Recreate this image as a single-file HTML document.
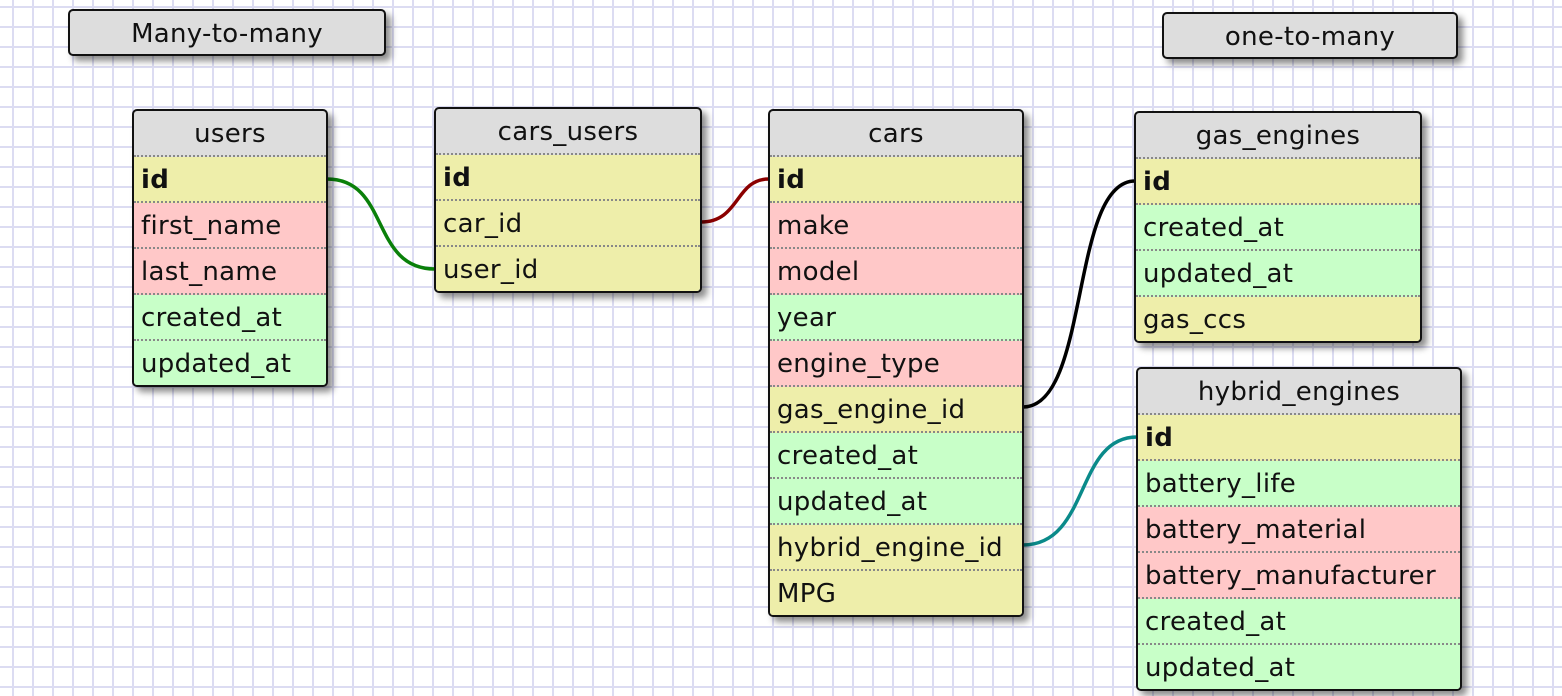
<!DOCTYPE html>
<html><head><meta charset="utf-8"><style>
body{margin:0;width:1562px;height:696px;overflow:hidden;position:relative;
background-color:#fff;
background-image:linear-gradient(90deg,#dcdcf2 2px,transparent 2px),linear-gradient(#dcdcf2 2px,transparent 2px);
background-size:20px 20px;background-position:12px 6px;
font-family:"DejaVu Sans","Liberation Sans",sans-serif;}
.t{position:absolute;border:2px solid #111;border-radius:5px;background:#ddd;box-shadow:5px 5px 7px rgba(0,0,0,.45);overflow:hidden;box-sizing:border-box}
.h{height:44px;line-height:46px;text-align:center;font-size:26px;letter-spacing:0.3px;color:#111;border-bottom:2px dotted #888}
.r{height:44px;line-height:46px;padding-left:7px;font-size:26px;letter-spacing:0.3px;color:#111;border-bottom:2px dotted #888;white-space:nowrap}
.r:last-child{border-bottom:none}
.y{background:#eeeeaa}.p{background:#ffc8c8}.g{background:#c8ffc8}
b{font-weight:bold}
.lab{position:absolute;border:2px solid #111;border-radius:5px;background:#ddd;box-shadow:5px 5px 7px rgba(0,0,0,.45);text-align:center;font-size:26px;letter-spacing:0.3px;box-sizing:border-box;color:#111}
svg{position:absolute;left:0;top:0}
</style></head><body>
<div class="lab" style="left:68px;top:9px;width:318px;height:47px;line-height:46px">Many-to-many</div>
<div class="lab" style="left:1162px;top:12px;width:296px;height:47px;line-height:46px">one-to-many</div>

<svg width="1562" height="696">
<path d="M327,179 C390,179 370,269 435,269" stroke="#0a800a" stroke-width="3.5" fill="none"/>
<path d="M701,222 C740,222 735,179 769,179" stroke="#8b0000" stroke-width="3.5" fill="none"/>
<path d="M1023,407 C1090,407 1070,181 1135,181" stroke="#000" stroke-width="3.5" fill="none"/>
<path d="M1023,545 C1090,545 1075,437 1137,437" stroke="#0a8a8a" stroke-width="3.5" fill="none"/>
</svg>

<div class="t" style="left:132px;top:109px;width:196px;height:278px">
<div class="h">users</div>
<div class="r y"><b>id</b></div><div class="r p">first_name</div><div class="r p">last_name</div><div class="r g">created_at</div><div class="r g">updated_at</div>
</div>

<div class="t" style="left:434px;top:107px;width:268px;height:186px">
<div class="h">cars_users</div>
<div class="r y"><b>id</b></div><div class="r y">car_id</div><div class="r y">user_id</div>
</div>

<div class="t" style="left:768px;top:109px;width:256px;height:508px">
<div class="h">cars</div>
<div class="r y"><b>id</b></div><div class="r p">make</div><div class="r p">model</div><div class="r g">year</div><div class="r p">engine_type</div><div class="r y">gas_engine_id</div><div class="r g">created_at</div><div class="r g">updated_at</div><div class="r y">hybrid_engine_id</div><div class="r y">MPG</div>
</div>

<div class="t" style="left:1134px;top:111px;width:288px;height:232px">
<div class="h">gas_engines</div>
<div class="r y"><b>id</b></div><div class="r g">created_at</div><div class="r g">updated_at</div><div class="r y">gas_ccs</div>
</div>

<div class="t" style="left:1136px;top:367px;width:326px;height:324px">
<div class="h">hybrid_engines</div>
<div class="r y"><b>id</b></div><div class="r g">battery_life</div><div class="r p">battery_material</div><div class="r p">battery_manufacturer</div><div class="r g">created_at</div><div class="r g">updated_at</div>
</div>
</body></html>
